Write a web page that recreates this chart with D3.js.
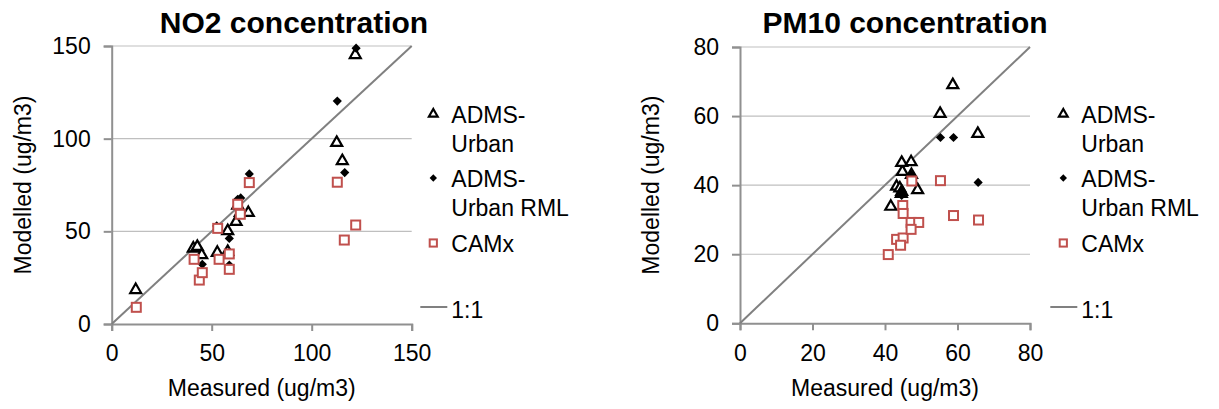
<!DOCTYPE html>
<html lang="en">
<head>
<meta charset="utf-8">
<script src="https://d3js.org/d3.v7.min.js"></script>
<style>
  body { margin: 0; background: #fff; }
  text { font-family: 'Liberation Sans', Arial, sans-serif; fill: #000; }
</style>
</head>
<body>
<script>
// NO2 values [measured, modelled]
var no2Adms = [[12,18.4],[40.8,40.8],[42.8,41.7],[45,37.2],[52.8,38.5],[58,39],[58,50.2],
               [62.2,55.2],[63,64],[64.3,60],[68.3,60],[112.5,97.8],[115.3,88],[121.8,145.2]];
var no2Rml  = [[12.3,9],[41.2,35],[43.8,25],[45.3,32.2],[52.5,52.9],[53.7,35],[58.8,46.2],
               [58.8,31.8],[63,67.3],[64.5,68],[68.8,81],[112.8,120.3],[116.5,81.7],[122.2,148.8]];
var no2Camx = [[12.3,9],[41.2,34.9],[43.8,23.7],[45.3,27.7],[53,51.6],[53.7,34.9],[58.8,37.8],
               [58.8,29.5],[63,64.6],[64.3,59.2],[68.8,76.3],[112.8,76.5],[116.3,45.3],[122,53.4]];

// PM10 values [measured, modelled]
var pm10Adms = [[41.6,33.8],[43.2,39.6],[44.1,39.1],[44.6,38.1],[44.5,37.5],[44.8,43.9],[44.6,46.5],
                [47.2,46.7],[47.3,43],[49,38.6],[55.2,60.7],[58.7,69],[65.6,54.9]];
var pm10Rml  = [[40.9,19.9],[43.2,24.3],[45,24.7],[44.3,22.6],[44.9,34.1],[44.4,37.8],[44.6,37],
                [47.2,29.2],[49.3,29.2],[47.2,43],[55.3,53.8],[58.9,53.8],[65.7,40.8]];
var pm10Camx = [[40.9,19.9],[43.2,24.3],[45,24.7],[44.3,22.6],[44.9,34.1],[45,31.8],[47.2,29.2],
                [49.3,29.2],[47.2,27.2],[47.4,41.2],[55.3,41.3],[58.9,31.2],[65.8,29.9]];

var no2Ticks = [0, 50, 100, 150];
var pm10Ticks = [0, 20, 40, 60, 80];
var seriesNames = [["ADMS-", "Urban"], ["ADMS-", "Urban RML"], ["CAMx"]];
var lineName = "1:1";

var width = 1219, height = 409;
var svg = d3.select('body').append('svg').attr('width', width).attr('height', height);

var red = '#c0504d';

function marker(sel, kind, small) {
  var s = small ? 0.8 : 1;
  if (kind == 0) {
    sel.append('path').attr('d', d3.symbol().type(d3.symbolTriangle).size(52 * s * s)())
      .attr('fill', '#fff').attr('stroke', '#000').attr('stroke-width', 2.2);
  } else if (kind == 1) {
    var r = 4.6 * s;
    sel.append('path').attr('d', 'M0,' + (-r) + 'L' + r + ',0L0,' + r + 'L' + (-r) + ',0Z')
      .attr('fill', '#000');
  } else {
    var h = 4.5 * s;
    sel.append('rect').attr('x', -h).attr('y', -h).attr('width', 2 * h).attr('height', 2 * h)
      .attr('fill', '#fff').attr('stroke', red).attr('stroke-width', 2);
  }
}

function drawChart(o) {
  var g = svg.append('g');
  var x = d3.scaleLinear().domain([0, o.max]).range([o.x0, o.x1]);
  var y = d3.scaleLinear().domain([0, o.max]).range([o.y0, o.y1]);

  // gridlines
  g.selectAll('.grid').data(o.ticks.slice(1)).join('line')
    .attr('x1', o.x0).attr('x2', o.x1)
    .attr('y1', d => y(d)).attr('y2', d => y(d))
    .attr('stroke', '#bfbfbf').attr('stroke-width', 1.2);

  // y axis
  var ya = g.append('g').attr('transform', 'translate(' + o.x0 + ',0)')
    .call(d3.axisLeft(y).tickValues(o.ticks).tickSize(8).tickPadding(13));
  // x axis
  var xa = g.append('g').attr('transform', 'translate(0,' + o.y0 + ')')
    .call(d3.axisBottom(x).tickValues(o.ticks).tickSize(7).tickPadding(14));
  [ya, xa].forEach(function(a) {
    a.select('.domain').attr('stroke', '#909090').attr('stroke-width', 2);
    a.selectAll('.tick line').attr('stroke', '#909090').attr('stroke-width', 2);
    a.selectAll('.tick text').attr('font-size', 23).attr('font-family', "'Liberation Sans', Arial, sans-serif").attr('fill', '#000');
  });

  // 1:1 line
  g.append('line')
    .attr('x1', x(0)).attr('y1', y(0)).attr('x2', x(o.max)).attr('y2', y(o.max))
    .attr('stroke', '#808080').attr('stroke-width', 2);

  // points
  o.series.forEach(function(s, k) {
    g.selectAll('.pt' + k).data(s).join('g')
      .attr('transform', d => 'translate(' + x(d[0]) + ',' + y(d[1]) + ')')
      .each(function() { marker(d3.select(this), k); });
  });

  // titles
  g.append('text').attr('x', o.titleX).attr('y', 33).attr('text-anchor', 'middle')
    .attr('font-size', 30).attr('font-weight', 'bold').text(o.title);
  g.append('text').attr('x', (o.x0 + o.x1) / 2).attr('y', 396).attr('text-anchor', 'middle')
    .attr('font-size', 23).text('Measured (ug/m3)');
  g.append('text').attr('transform', 'translate(' + (o.x0 - 81) + ',' + ((o.y0 + o.y1) / 2) + ') rotate(-90)')
    .attr('text-anchor', 'middle').attr('font-size', 23).text('Modelled (ug/m3)');

  // legend
  var lx = o.legendX;
  var rows = [114, 178, 243];
  seriesNames.forEach(function(name, k) {
    var m = g.append('g').attr('transform', 'translate(' + lx + ',' + rows[k] + ')');
    marker(m, k, true);
    var t = g.append('text').attr('x', lx + 18).attr('y', rows[k] + 9).attr('font-size', 23);
    name.forEach(function(line, i) {
      t.append('tspan').attr('x', lx + 18).attr('dy', i == 0 ? 0 : 28.5).text(line);
    });
  });
  g.append('line').attr('x1', lx - 13).attr('x2', lx + 14).attr('y1', 307).attr('y2', 307)
    .attr('stroke', '#808080').attr('stroke-width', 2);
  g.append('text').attr('x', lx + 18).attr('y', 318).attr('font-size', 23).text(lineName);
}

drawChart({
  title: 'NO2 concentration', titleX: 294, max: 150, ticks: no2Ticks,
  x0: 111.7, x1: 411.7, y0: 324, y1: 46, legendX: 433.3,
  series: [no2Adms, no2Rml, no2Camx]
});
drawChart({
  title: 'PM10 concentration', titleX: 905, max: 80, ticks: pm10Ticks,
  x0: 740, x1: 1030, y0: 323.3, y1: 47, legendX: 1063.3,
  series: [pm10Adms, pm10Rml, pm10Camx]
});
</script>
</body>
</html>
